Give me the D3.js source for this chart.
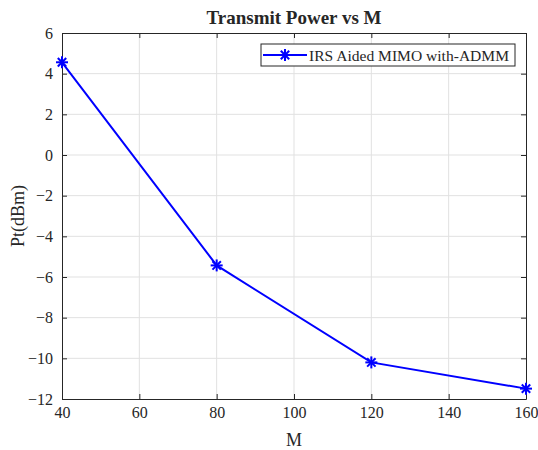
<!DOCTYPE html>
<html>
<head>
<meta charset="utf-8">
<script src="https://cdn.jsdelivr.net/npm/d3@7"></script>
<style>
  html, body { margin: 0; padding: 0; background: #fff; }
  svg { display: block; }
  svg text { font-family: "Liberation Serif", "Times New Roman", serif !important; fill: #262626; }
</style>
</head>
<body>
<script>
const mValues = [40, 80, 120, 160];
const powerValues = [4.56, -5.43, -10.2, -11.49];
const xTicks = [40, 60, 80, 100, 120, 140, 160];
const yTicks = [-12, -10, -8, -6, -4, -2, 0, 2, 4, 6];
const seriesName = "IRS Aided MIMO with-ADMM";
const titleText = "Transmit Power vs M";
const xLabel = "M";
const yLabel = "Pt(dBm)";

const W = 538, H = 450;
const margin = { left: 62, right: 12, top: 33, bottom: 51 };
const pw = W - margin.left - margin.right;
const ph = H - margin.top - margin.bottom;

const svg = d3.select("body").append("svg").attr("width", W).attr("height", H);
const g = svg.append("g").attr("transform", `translate(${margin.left},${margin.top})`);

const x = d3.scaleLinear().domain([40, 160]).range([0, pw]);
const y = d3.scaleLinear().domain([-12, 6]).range([ph, 0]);

// grid
g.append("g").selectAll("line").data(xTicks.slice(1, -1)).join("line")
  .attr("x1", d => x(d)).attr("x2", d => x(d)).attr("y1", 0).attr("y2", ph)
  .attr("stroke", "#e1e1e1").attr("stroke-width", 1);
g.append("g").selectAll("line").data(yTicks.slice(1, -1)).join("line")
  .attr("y1", d => y(d)).attr("y2", d => y(d)).attr("x1", 0).attr("x2", pw)
  .attr("stroke", "#e1e1e1").attr("stroke-width", 1);

// axes
const tickLen = 5;
const xAxisB = d3.axisBottom(x).tickValues(xTicks).tickSizeInner(-tickLen).tickSizeOuter(0).tickPadding(8);
const xAxisT = d3.axisTop(x).tickValues(xTicks).tickSizeInner(-tickLen).tickSizeOuter(0).tickFormat("");
const yAxisL = d3.axisLeft(y).tickValues(yTicks).tickSizeInner(-tickLen).tickSizeOuter(0).tickPadding(9);
const yAxisR = d3.axisRight(y).tickValues(yTicks).tickSizeInner(-tickLen).tickSizeOuter(0).tickFormat("");

function styleAxis(sel) {
  sel.attr("font-family", null);
  sel.select(".domain").attr("stroke", "#262626").attr("stroke-width", 1);
  sel.selectAll(".tick line").attr("stroke", "#262626");
  sel.selectAll(".tick text").attr("font-size", 16).attr("fill", "#262626");
}
g.append("g").attr("transform", `translate(0,${ph})`).call(xAxisB).call(styleAxis);
g.append("g").call(xAxisT).call(styleAxis);
g.append("g").call(yAxisL).call(styleAxis);
g.append("g").attr("transform", `translate(${pw},0)`).call(yAxisR).call(styleAxis);

// line
const data = mValues.map((m, i) => ({ m, p: powerValues[i] }));
g.append("path").datum(data)
  .attr("fill", "none").attr("stroke", "#0000ff").attr("stroke-width", 2)
  .attr("d", d3.line().x(d => x(d.m)).y(d => y(d.p)));

function asterisk(sel, r) {
  const arms = [[0, -r, 0, r], [-r, 0, r, 0], [-r * 0.7, -r * 0.7, r * 0.7, r * 0.7], [-r * 0.7, r * 0.7, r * 0.7, -r * 0.7]];
  arms.forEach(a => sel.append("line").attr("x1", a[0]).attr("y1", a[1]).attr("x2", a[2]).attr("y2", a[3])
    .attr("stroke", "#0000ff").attr("stroke-width", 2));
}
g.selectAll("g.marker").data(data).join("g").attr("class", "marker")
  .attr("transform", d => `translate(${x(d.m)},${y(d.p)})`)
  .each(function () { asterisk(d3.select(this), 6); });

// legend
const lg = svg.append("g");
lg.append("rect").attr("x", 261).attr("y", 44).attr("width", 254).attr("height", 22)
  .attr("fill", "#fff").attr("stroke", "#262626").attr("stroke-width", 1);
lg.append("line").attr("x1", 263).attr("x2", 307).attr("y1", 55).attr("y2", 55)
  .attr("stroke", "#0000ff").attr("stroke-width", 2);
asterisk(lg.append("g").attr("transform", "translate(285,55)"), 6);
lg.append("text").attr("x", 309).attr("y", 60.5).attr("font-size", 15.5)
  .attr("textLength", 200).attr("lengthAdjust", "spacingAndGlyphs").text(seriesName);

// title & labels
svg.append("text").attr("x", margin.left + pw / 2).attr("y", 24).attr("text-anchor", "middle")
  .attr("font-size", 19).attr("font-weight", "bold").text(titleText);
svg.append("text").attr("x", margin.left + pw / 2).attr("y", 446).attr("text-anchor", "middle")
  .attr("font-size", 18).text(xLabel);
svg.append("text").attr("transform", `translate(24,${margin.top + ph / 2}) rotate(-90)`)
  .attr("text-anchor", "middle").attr("font-size", 18).text(yLabel);
</script>
</body>
</html>
